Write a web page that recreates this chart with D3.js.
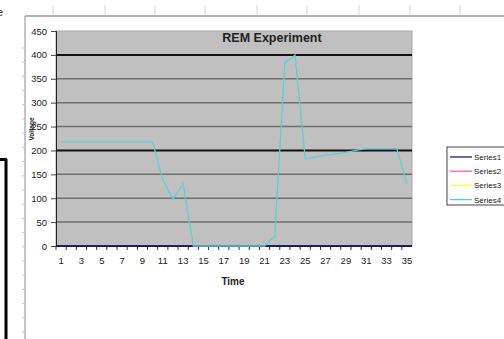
<!doctype html>
<html lang="en">
  <head>
    <meta charset="utf-8">
    <title>REM Experiment</title>
    <script src="https://d3js.org/d3.v7.min.js"></script>
    <style>
      body { margin: 0; background: #fff; }
      svg { display: block; font-family: "Liberation Sans", Arial, sans-serif; }
      .tick text { fill: #222; }
    </style>
  </head>
  <body>
    <div id="chart"></div>
    <script>
    // Data
    var times = [1, 2, 3, 4, 5, 6, 7, 8, 9, 10, 11, 12, 13, 14, 15, 16, 17, 18,
                 19, 20, 21, 22, 23, 24, 25, 26, 27, 28, 29, 30, 31, 32, 33, 34, 35];
    var series1 = [];
    var series2 = [];
    var series3 = [];
    var series4 = [218, 218, 218, 218, 218, 218, 218, 218, 218, 218, 138, 98, 130, 0,
                   0, 0, 0, 0, 0, 0, 0, 20, 383, 400, 183, 186, 190, 193, 196, 200,
                   204, 204, 204, 204, 131];
    var seriesNames = ['Series1', 'Series2', 'Series3', 'Series4'];
    var seriesColors = ['#1c1c7a', '#ff55cc', '#ffff33', '#5ccfd6'];
    var yTicks = [0, 50, 100, 150, 200, 250, 300, 350, 400, 450];
    var xLabels = [1, 3, 5, 7, 9, 11, 13, 15, 17, 19, 21, 23, 25, 27, 29, 31, 33, 35];

    function draw() {
        var W = 504, H = 339;
        var svg = d3.select('#chart').append('svg')
            .attr('width', W)
            .attr('height', H);

        // spreadsheet bits around the chart
        svg.append('text')
            .attr('x', -3).attr('y', 16)
            .style('font-size', '11px').style('fill', '#333')
            .text('e');
        svg.append('path')
            .attr('d', 'M0,159.5H7M6,159V339')
            .attr('fill', 'none')
            .attr('stroke', '#000')
            .attr('stroke-width', 3);
        svg.append('g').selectAll('line')
            .data([53, 105, 155, 205, 257, 307, 359, 410, 460])
            .enter().append('line')
            .attr('x1', function(d) { return d; }).attr('x2', function(d) { return d; })
            .attr('y1', 5).attr('y2', 15)
            .attr('stroke', '#d8d8d8');
        svg.append('line')
            .attr('x1', 25).attr('x2', W).attr('y1', 16).attr('y2', 16)
            .attr('stroke', '#9a9a9a').attr('stroke-width', 1.5);
        svg.append('line')
            .attr('x1', 25).attr('x2', 25).attr('y1', 16).attr('y2', H)
            .attr('stroke', '#8a8a8a');
        svg.append('g').selectAll('line')
            .data(d3.range(48, H, 14.2))
            .enter().append('line')
            .attr('x1', 22).attr('x2', 25)
            .attr('y1', function(d) { return d; }).attr('y2', function(d) { return d; })
            .attr('stroke', '#c8c8c8');

        // plot area
        var pLeft = 56, pTop = 31, pRight = 412, pBottom = 246;
        var x = d3.scaleBand().domain(times).range([pLeft, pRight]).padding(0);
        var y = d3.scaleLinear().domain([0, 450]).range([pBottom, pTop]);

        svg.append('rect')
            .attr('x', pLeft).attr('y', pTop)
            .attr('width', pRight - pLeft).attr('height', pBottom - pTop)
            .attr('fill', '#c0c0c0')
            .attr('stroke', '#a8a8a8');

        // gridlines
        svg.append('g').selectAll('line')
            .data(yTicks.filter(function(d) { return d > 0 && d < 450; }))
            .enter().append('line')
            .attr('x1', pLeft).attr('x2', pRight)
            .attr('y1', function(d) { return y(d); })
            .attr('y2', function(d) { return y(d); })
            .attr('stroke', function(d) { return (d == 200 || d == 400) ? '#111' : '#6e6e6e'; })
            .attr('stroke-width', function(d) { return (d == 200 || d == 400) ? 2 : 1.5; });

        // y axis
        var yAxis = svg.append('g')
            .attr('transform', 'translate(' + pLeft + ',0)')
            .call(d3.axisLeft(y).tickValues(yTicks).tickSize(5).tickPadding(4));
        yAxis.select('.domain').attr('stroke', '#222');
        yAxis.selectAll('.tick line').attr('stroke', '#444');
        yAxis.selectAll('.tick text').style('font-size', '9.5px');

        // x axis
        var xAxis = svg.append('g')
            .attr('transform', 'translate(0,' + pBottom + ')')
            .call(d3.axisBottom(x).tickSize(0).tickPadding(11)
                .tickFormat(function(d) { return xLabels.indexOf(d) >= 0 ? d : ''; }));
        xAxis.select('.domain').remove();
        xAxis.selectAll('.tick text').style('font-size', '9.5px');
        svg.append('g').selectAll('line')
            .data(times)
            .enter().append('line')
            .attr('x1', function(d) { return x(d); }).attr('x2', function(d) { return x(d); })
            .attr('y1', pBottom).attr('y2', pBottom + 4)
            .attr('stroke', '#333');
        svg.append('line')
            .attr('x1', pLeft).attr('x2', pRight)
            .attr('y1', pBottom).attr('y2', pBottom)
            .attr('stroke', '#1c1c6a').attr('stroke-width', 2);

        // lines
        var line = d3.line()
            .x(function(d, i) { return x(times[i]) + x.bandwidth() / 2; })
            .y(function(d) { return y(d); });
        [series1, series2, series3, series4].forEach(function(s, k) {
            if (!s.length) return;
            svg.append('path')
                .datum(s)
                .attr('d', line)
                .attr('fill', 'none')
                .attr('stroke', seriesColors[k])
                .attr('stroke-width', 1.3);
        });

        // titles
        svg.append('text')
            .attr('x', 272).attr('y', 42)
            .attr('text-anchor', 'middle')
            .style('font-size', '12.5px').style('font-weight', 'bold').style('fill', '#222')
            .text('REM Experiment');
        svg.append('text')
            .attr('x', 233).attr('y', 285)
            .attr('text-anchor', 'middle')
            .style('font-size', '10px').style('font-weight', 'bold').style('fill', '#222')
            .text('Time');
        svg.append('text')
            .attr('transform', 'translate(34,129)rotate(-90)')
            .attr('text-anchor', 'middle')
            .style('font-size', '6.5px').style('font-weight', 'bold').style('fill', '#222')
            .text('Voltage');

        // legend
        var legend = svg.append('g').attr('transform', 'translate(447,147)');
        legend.append('rect')
            .attr('x', 0).attr('y', 0).attr('width', 70).attr('height', 58)
            .attr('fill', '#fff').attr('stroke', '#444');
        var items = legend.selectAll('g.item')
            .data(seriesNames)
            .enter().append('g')
            .attr('class', 'item')
            .attr('transform', function(d, i) { return 'translate(0,' + (10 + i * 14.2) + ')'; });
        items.append('line')
            .attr('x1', 3).attr('x2', 25).attr('y1', 0).attr('y2', 0)
            .attr('stroke', function(d, i) { return seriesColors[i]; })
            .attr('stroke-width', 1.3);
        items.append('text')
            .attr('x', 27).attr('y', 3)
            .style('font-size', '8px').style('fill', '#222')
            .text(function(d) { return d; });
    }
    draw();
    </script>
  </body>
</html>
